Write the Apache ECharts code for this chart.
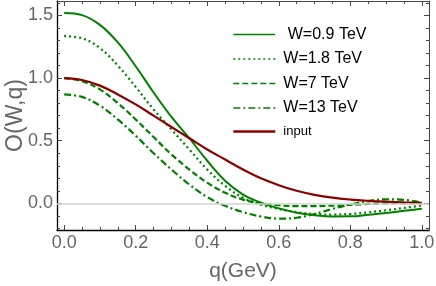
<!DOCTYPE html>
<html><head><meta charset="utf-8">
<script src="https://cdn.jsdelivr.net/npm/echarts@6/dist/echarts.min.js"></script>
<style>html,body{margin:0;padding:0;background:#fff}#c{width:436px;height:286px}</style>
</head><body><div id="c"></div>
<script>
const qValues = [0,0.05,0.1,0.15,0.2,0.25,0.3,0.35,0.4,0.45,0.5,0.55,0.6,0.65,0.7,0.75,0.8,0.85,0.9,0.95,1.0];
const w09 = [1.52,1.503,1.425,1.285,1.095,0.885,0.69,0.52,0.34,0.18,0.07,0.005,-0.04,-0.075,-0.095,-0.105,-0.104,-0.092,-0.077,-0.06,-0.043];
const w18 = [1.335,1.318,1.24,1.10,0.93,0.75,0.59,0.43,0.27,0.14,0.045,-0.01,-0.045,-0.07,-0.085,-0.09,-0.085,-0.072,-0.055,-0.037,-0.018];
const w7  = [1.0,0.975,0.91,0.80,0.67,0.53,0.39,0.27,0.165,0.085,0.03,0.0,-0.015,-0.022,-0.022,-0.018,-0.012,-0.005,0.0,0.002,0.0];
const w13 = [0.87,0.85,0.78,0.67,0.54,0.40,0.27,0.15,0.05,-0.02,-0.07,-0.105,-0.122,-0.115,-0.085,-0.045,-0.01,0.018,0.032,0.028,0.005];
const inputVals = [1.0,0.985,0.94,0.87,0.79,0.70,0.61,0.52,0.43,0.35,0.27,0.20,0.145,0.10,0.068,0.045,0.03,0.02,0.013,0.008,0.004];
const seriesNames = ['W=0.9 TeV','W=1.8 TeV','W=7 TeV','W=13 TeV','input'];
const xMajor = [0,0.2,0.4,0.6,0.8,1.0];
const xMinor = [0.05,0.1,0.15,0.25,0.3,0.35,0.45,0.5,0.55,0.65,0.7,0.75,0.85,0.9,0.95];
const yMajor = [0,0.5,1.0,1.5];
const yMinor = [-0.2,-0.1,0.1,0.2,0.3,0.4,0.6,0.7,0.8,0.9,1.1,1.2,1.3,1.4,1.6];

const FONT = '"Liberation Sans", Arial, sans-serif';
const GREEN = '#008000', RED = '#8b0000';
const pair = arr => qValues.map((q,i)=>[q,arr[i]]);
const XMIN=-0.02, XMAX=1.02, YMIN=-0.213, YMAX=1.616;

function xAx(pos, custom, len, main){
  return {type:'value', min:XMIN, max:XMAX, position:pos,
    axisLine:{show:!!main, onZero:false, lineStyle:{color: pos==='bottom'?'#000':'#444', width: pos==='bottom'?1.3:1}},
    axisTick:{show:true, inside:true, length:len, customValues:custom, lineStyle:{color:'#444',width:1}},
    axisLabel:{show: main && pos==='bottom', customValues:custom, formatter:v=>v.toFixed(1), color:'#666', fontSize:18, fontFamily:FONT, margin:4},
    splitLine:{show:false},
    name: (main && pos==='bottom') ? 'q(GeV)' : '', nameLocation:'middle', nameGap:31, nameMoveOverlap:false,
    nameTextStyle:{color:'#666', fontSize:21, fontFamily:FONT}};
}
function yAx(pos, custom, len, main){
  return {type:'value', min:YMIN, max:YMAX, position:pos,
    axisLine:{show:!!main, onZero:false, lineStyle:{color: pos==='left'?'#000':'#444', width: pos==='left'?1.3:1}},
    axisTick:{show:true, inside:true, length:len, customValues:custom, lineStyle:{color:'#444',width:1}},
    axisLabel:{show: main && pos==='left', customValues:custom, formatter:v=>v.toFixed(1), color:'#666', fontSize:18, fontFamily:FONT, margin:4},
    splitLine:{show:false},
    name: (main && pos==='left') ? 'O(W,q)' : '', nameLocation:'middle', nameGap:30, nameMoveOverlap:false,
    nameTextStyle:{color:'#666', fontSize:23, fontFamily:FONT}};
}

const chart = echarts.init(document.getElementById('c'), null, {renderer:'canvas'});
chart.setOption({
  animation:false,
  grid:{left:57, right:7, top:1, bottom:56, containLabel:false, outerBoundsMode:'none'},
  xAxis:[xAx('bottom',xMajor,5,true), xAx('bottom',xMinor,3,false), xAx('top',xMajor,5,true), xAx('top',xMinor,3,false)],
  yAxis:[yAx('left',yMajor,5,true), yAx('left',yMinor,3,false), yAx('right',yMajor,5,true), yAx('right',yMinor,3,false)],
  legend:{orient:'vertical', left:232, top:26.5, padding:0, itemWidth:42, itemHeight:14, itemGap:8.5,
    formatter: n => n===seriesNames[0] ? ' '+n : n,
    itemStyle:{opacity:0, borderWidth:0},
    textStyle:{fontSize:16, color:'#000', fontFamily:FONT, lineHeight:14, padding:[0,0,0,3]},
    data:[
      {name:seriesNames[0], lineStyle:{width:1.3}},
      {name:seriesNames[1], lineStyle:{width:1.5}},
      {name:seriesNames[2], lineStyle:{width:1.5}},
      {name:seriesNames[3], lineStyle:{width:1.5}},
      {name:seriesNames[4], lineStyle:{width:2.6}, textStyle:{fontSize:13}}
    ]},
  series:[
    {name:'zero', type:'line', data:[], silent:true, z:1,
     markLine:{silent:true, symbol:'none', label:{show:false}, lineStyle:{color:'#d3d3d3', type:'solid', width:1.5}, data:[{yAxis:0}]}},
    {name:seriesNames[0], type:'line', smooth:0.4, symbol:'none', z:3, data:pair(w09), lineStyle:{color:GREEN, width:2, type:'solid'}, itemStyle:{color:GREEN}},
    {name:seriesNames[1], type:'line', smooth:0.4, symbol:'none', z:3, data:pair(w18), lineStyle:{color:GREEN, width:2.2, type:[2,3]}, itemStyle:{color:GREEN}},
    {name:seriesNames[2], type:'line', smooth:0.4, symbol:'none', z:3, data:pair(w7), lineStyle:{color:GREEN, width:2.2, type:[6,3]}, itemStyle:{color:GREEN}},
    {name:seriesNames[3], type:'line', smooth:0.4, symbol:'none', z:3, data:pair(w13), lineStyle:{color:GREEN, width:2.2, type:[7,3,2,3]}, itemStyle:{color:GREEN}},
    {name:seriesNames[4], type:'line', smooth:0.4, symbol:'none', z:4, data:pair(inputVals), lineStyle:{color:RED, width:2.2, type:'solid'}, itemStyle:{color:RED}}
  ]
});
</script></body></html>
